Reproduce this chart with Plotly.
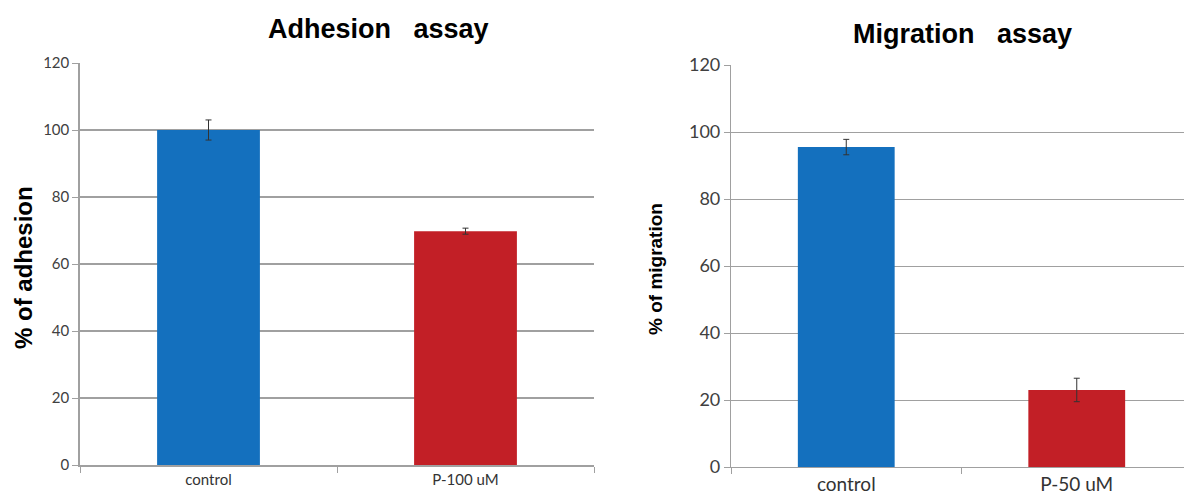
import plotly.graph_objects as go

# page offset of the plot div (default body margin)
OFF = 8
W, H = 1192 - OFF, 501 - OFF

adh_categories = ["control", "P-100 uM"]
adh_values = [100, 69.8]
adh_errors = [3.0, 0.9]

mig_categories = ["control", "P-50 uM"]
mig_values = [95.5, 23.0]
mig_errors = [2.3, 3.5]

y_ticks = [0, 20, 40, 60, 80, 100, 120]

bar_colors = ["#1470BE", "#C21F26"]

fig = go.Figure()

fig.add_trace(go.Bar(
    x=adh_categories, y=adh_values, xaxis="x", yaxis="y",
    marker=dict(color=bar_colors, line=dict(width=0)),
    error_y=dict(type="data", array=adh_errors, visible=True,
                 color="#333333", thickness=1, width=3),
    width=0.4, showlegend=False,
))
fig.add_trace(go.Bar(
    x=mig_categories, y=mig_values, xaxis="x2", yaxis="y2",
    marker=dict(color=bar_colors, line=dict(width=0)),
    error_y=dict(type="data", array=mig_errors, visible=True,
                 color="#333333", thickness=1, width=3),
    width=0.42, showlegend=False,
))

def px_x(v):
    return min(1.0, (v - OFF) / W)

def px_y(v):
    return 1 - (v - OFF) / H

grid = "#A0A0A0"
sans = "Lato, Open Sans, sans-serif"
arial = "Liberation Sans, Arial, sans-serif"

fig.update_layout(
    width=W, height=H,
    margin=dict(l=0, r=0, t=0, b=0, autoexpand=False),
    paper_bgcolor="white", plot_bgcolor="white",
    xaxis=dict(domain=[px_x(80), px_x(594)], range=[-0.5, 1.5],
               showline=True, linecolor=grid, linewidth=1.5,
               ticks="outside", tickson="boundaries", ticklen=6, tickcolor=grid,
               tickfont=dict(family=sans, size=15, color="#333333"),
               showgrid=False, anchor="y", fixedrange=True, automargin=False),
    yaxis=dict(domain=[px_y(465), px_y(63)], range=[0, 120], tickvals=y_ticks,
               showline=True, linecolor=grid, linewidth=1.5,
               ticks="outside", ticklen=6, tickcolor=grid,
               tickfont=dict(family=sans, size=15, color="#404040"),
               showgrid=True, gridcolor=grid, gridwidth=1.5,
               zeroline=False, anchor="x", fixedrange=True, automargin=False),
    xaxis2=dict(domain=[px_x(731), 1], range=[-0.5, 1.5],
                showline=True, linecolor=grid, linewidth=1.2,
                ticks="outside", tickson="boundaries", ticklen=6, tickcolor=grid,
                tickfont=dict(family=sans, size=19, color="#333333"),
                showgrid=False, anchor="y2", fixedrange=True, automargin=False),
    yaxis2=dict(domain=[px_y(467), px_y(65)], range=[0, 120], tickvals=y_ticks,
                showline=True, linecolor=grid, linewidth=1.2,
                ticks="outside", ticklen=6, tickcolor=grid,
                tickfont=dict(family=sans, size=18, color="#404040"),
                showgrid=True, gridcolor=grid, gridwidth=1.2,
                zeroline=False, anchor="x2", fixedrange=True, automargin=False),
    annotations=[
        dict(text="<b>Adhesion\u00a0\u00a0\u00a0assay</b>", x=px_x(378), y=px_y(29),
             xref="paper", yref="paper", xanchor="center", yanchor="middle", showarrow=False,
             font=dict(family=arial, size=27, color="black")),
        dict(text="<b>Migration\u00a0\u00a0\u00a0assay</b>", x=px_x(962), y=px_y(34),
             xref="paper", yref="paper", xanchor="center", yanchor="middle", showarrow=False,
             font=dict(family=arial, size=27, color="black")),
        dict(text="<b>% of adhesion</b>", x=px_x(23), y=px_y(268), textangle=-90,
             xref="paper", yref="paper", xanchor="center", yanchor="middle", showarrow=False,
             font=dict(family=arial, size=24, color="black")),
        dict(text="<b>% of migration</b>", x=px_x(655), y=px_y(269), textangle=-90,
             xref="paper", yref="paper", xanchor="center", yanchor="middle", showarrow=False,
             font=dict(family=arial, size=19, color="black")),
    ],
)

fig.write_html("out.html")
